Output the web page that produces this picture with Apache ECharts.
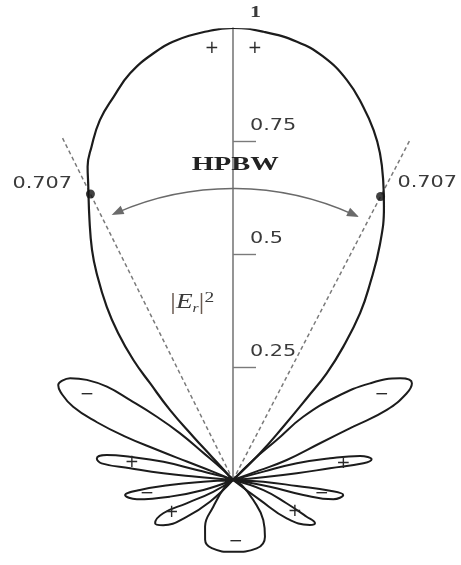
<!DOCTYPE html>
<html>
<head>
<meta charset="utf-8">
<script src="https://cdn.jsdelivr.net/npm/echarts@6/dist/echarts.min.js"></script>
<style>
  html, body { margin: 0; padding: 0; background: #fff; }
  #chart { width: 461px; height: 565px; }
</style>
</head>
<body>
<div id="chart"></div>
<script>
// Power pattern |E_r|^2 of the array, normalised to 1 on broadside.
// Every outline point is [relative power, angle in degrees]; angles run
// clockwise from the broadside direction, negative values are on the left.

const mainLobe = [
  [0, -42], [0.069, -42.4], [0.130, -42.5], [0.208, -42.0], [0.282, -40.6],
  [0.345, -39.7], [0.413, -38.0], [0.474, -36.1], [0.548, -33.4], [0.597, -31.5],
  [0.657, -28.9], [0.731, -26.0], [0.764, -24.9], [0.801, -23.0], [0.849, -20.3],
  [0.888, -17.3], [0.928, -14.2], [0.960, -10.6], [0.981, -7.3], [0.994, -3.4],
  [1.0, 0], [0.994, 3.9], [0.980, 8.3], [0.958, 12.0], [0.920, 15.9],
  [0.875, 19.2], [0.834, 21.9], [0.793, 24.2], [0.742, 26.6], [0.691, 28.9],
  [0.613, 32.0], [0.530, 34.9], [0.464, 37.3], [0.383, 39.6], [0.314, 41.3],
  [0.248, 42.0], [0.162, 43.3], [0.084, 45.3], [0, 45]
];

const firstSideLobeLeft = [
  [0, -46], [0.031, -44.5], [0.088, -47.5], [0.156, -48.6], [0.219, -50.3],
  [0.289, -52.2], [0.347, -53.5], [0.392, -55.6], [0.425, -58.0], [0.437, -59.8],
  [0.440, -61.5], [0.428, -63.0], [0.389, -65.4], [0.327, -67.0], [0.261, -68.0],
  [0.181, -68.3], [0.110, -68.2], [0.047, -67.5], [0, -66]
];
const firstSideLobeRight = [
  [0, 45], [0.063, 45.4], [0.131, 47.5], [0.209, 48.0], [0.294, 51.2],
  [0.371, 54.8], [0.433, 58.7], [0.450, 61.6], [0.429, 63.5], [0.374, 65.5],
  [0.291, 66.1], [0.209, 67.1], [0.127, 69.6], [0.062, 70], [0, 68]
];

const secondSideLobeLeft = [
  [0, -72], [0.023, -71.2], [0.083, -74.6], [0.159, -75.3], [0.234, -77.3],
  [0.285, -78.8], [0.305, -81.0], [0.293, -82.8], [0.229, -83.5], [0.155, -84.5],
  [0.081, -84.8], [0, -84]
];
const secondSideLobeRight = [
  [0, 74], [0.070, 74.7], [0.146, 75.3], [0.220, 77.4], [0.286, 79.3],
  [0.310, 81.5], [0.291, 82.7], [0.216, 83.1], [0.142, 84.0], [0.067, 84.9], [0, 85]
];

const thirdSideLobeLeft = [
  [0, -93], [0.066, -93.3], [0.140, -94.5], [0.207, -96.1], [0.241, -97.9],
  [0.217, -101.3], [0.144, -104.8], [0.069, -108.6], [0, -108]
];
const thirdSideLobeRight = [
  [0, 93], [0.067, 93.2], [0.142, 95.4], [0.216, 96.3], [0.246, 97.7],
  [0.226, 100.9], [0.159, 102.0], [0.083, 100.3], [0, 100]
];

const fourthSideLobeLeft = [
  [0, -120], [0.051, -120.7], [0.115, -116.7], [0.171, -115.5], [0.197, -119.0],
  [0.184, -122.9], [0.131, -128.4], [0.070, -133.3], [0, -133]
];
const fourthSideLobeRight = [
  [0, 108], [0.071, 108.3], [0.129, 113.5], [0.182, 116.5], [0.205, 117.8],
  [0.197, 120.3], [0.146, 125.5], [0.074, 126.5], [0, 127]
];

const backLobe = [
  [0, -128], [0.023, -129.9], [0.073, -143.6], [0.120, -149.0], [0.146, -155.0],
  [0.158, -162.7], [0.159, 180], [0.160, 160.9], [0.144, 150.6], [0.111, 142.9],
  [0.063, 134.6], [0.022, 120], [0, 120]
];

// Radius scale
const tickValues = [0.25, 0.5, 0.75];
const tickLabelValues = [0.25, 0.5, 0.75, 1];
const tickLabels = ['0.25', '0.5', '0.75', '1'];

// Half-power points and beamwidth
const halfPower = 0.707;
const halfPowerAngles = [-26.5, 27.5];
const halfPowerLabels = ['0.707', '0.707'];
const halfPowerLabelAt = [[0.779, -32.8], [0.785, 33.2]];
const hpbwGuideReach = 0.845;
const hpbwArc = [0.645, -24.6, 25.6];
const hpbwText = 'HPBW';
const hpbwTextAt = [0.697, 0.4];
const patternTitleAt = [0.402, -13.0];

// Field sign of each lobe
const lobeSigns = ['+', '+', '−', '−', '+', '+', '−', '−', '+', '+', '−'];
const lobeSignAt = [
  [0.956, -2.8], [0.956, 2.9], [0.374, -59.8], [0.379, 60.2], [0.227, -80.4],
  [0.247, 81.7], [0.193, -98.8], [0.198, 98.5], [0.154, -118.1], [0.154, 117.1],
  [0.137, 177.5]
];

// angle axis runs 0..360 clockwise from the top
const toAngle = (a) => (a < 0 ? a + 360 : a);
const toPoint = ([r, a]) => [r, toAngle(a)];

const lobes = [
  mainLobe, firstSideLobeLeft, firstSideLobeRight, secondSideLobeLeft,
  secondSideLobeRight, thirdSideLobeLeft, thirdSideLobeRight,
  fourthSideLobeLeft, fourthSideLobeRight, backLobe
];

const INK = '#1c1c1c';
const GREY = '#7a7a7a';
const LABEL = '#3a3a3a';

const lobeSeries = lobes.map((pts, i) => ({
  type: 'line',
  coordinateSystem: 'polar',
  data: pts.map(toPoint),
  smooth: 0.45,
  symbol: 'none',
  silent: true,
  z: 5,
  lineStyle: { color: INK, width: i === 0 ? 2.2 : 2 }
}));

const guideSeries = halfPowerAngles.map((a) => ({
  type: 'line',
  coordinateSystem: 'polar',
  data: [[0, toAngle(a)], [hpbwGuideReach, toAngle(a)]],
  symbol: 'none',
  silent: true,
  z: 3,
  lineStyle: { color: GREY, width: 1.5, type: [4, 3] }
}));

function textEl(p, text, style, scaleX) {
  return {
    type: 'text',
    x: p[0],
    y: p[1],
    scaleX: scaleX,
    style: Object.assign({ text: text, align: 'center', verticalAlign: 'middle', fill: LABEL }, style)
  };
}

const chart = echarts.init(document.getElementById('chart'), null, { renderer: 'canvas' });

chart.setOption({
  animation: false,
  backgroundColor: '#fff',
  polar: { center: [233, 480], radius: 452 },
  angleAxis: {
    type: 'value', min: 0, max: 360, startAngle: 90, clockwise: true, show: false
  },
  radiusAxis: {
    type: 'value', min: 0, max: 1, interval: 0.25,
    axisLine: { show: true, lineStyle: { color: GREY, width: 1.6 } },
    // negative length puts the ticks on the right-hand side of the upright axis
    axisTick: {
      show: true, customValues: tickValues, length: -23,
      lineStyle: { color: GREY, width: 1.4 }
    },
    axisLabel: { show: false },
    splitLine: { show: false },
    splitArea: { show: false }
  },
  series: [
    ...lobeSeries,
    ...guideSeries,
    {
      // half-power points
      type: 'scatter',
      coordinateSystem: 'polar',
      data: halfPowerAngles.map((a) => [halfPower, toAngle(a)]),
      symbol: 'circle',
      symbolSize: 9,
      itemStyle: { color: '#111' },
      silent: true,
      z: 8
    },
    {
      // beamwidth arrow between the half-power directions
      type: 'custom',
      coordinateSystem: 'polar',
      data: [[hpbwArc[0], 0]],
      silent: true,
      z: 4,
      renderItem: function (params, api) {
        const c = api.coord([0, 0]);
        const top = api.coord([hpbwArc[0], 0]);
        const R = Math.hypot(top[0] - c[0], top[1] - c[1]);
        const t1 = (hpbwArc[1] - 90) * Math.PI / 180;
        const t2 = (hpbwArc[2] - 90) * Math.PI / 180;
        const L = 12, W = 4.5;
        function head(t, sign) {
          const px = c[0] + R * Math.cos(t), py = c[1] + R * Math.sin(t);
          const dx = sign * -Math.sin(t), dy = sign * Math.cos(t);
          const bx = px - L * dx, by = py - L * dy;
          const nx = Math.cos(t), ny = Math.sin(t);
          return {
            type: 'polygon',
            shape: { points: [[px, py], [bx + W * nx, by + W * ny], [bx - W * nx, by - W * ny]] },
            style: { fill: '#6a6a6a' }
          };
        }
        return {
          type: 'group',
          children: [
            {
              type: 'arc',
              shape: { cx: c[0], cy: c[1], r: R, startAngle: t1 + 0.02, endAngle: t2 - 0.02, clockwise: true },
              style: { stroke: '#6a6a6a', lineWidth: 1.4, fill: null }
            },
            head(t1, -1),
            head(t2, 1)
          ]
        };
      }
    },
    {
      // radius tick labels, set above and to the right of each tick
      type: 'custom',
      coordinateSystem: 'polar',
      data: tickLabelValues.map((v) => [v, 0]),
      silent: true,
      z: 6,
      renderItem: function (params, api) {
        const i = params.dataIndex;
        const p = api.coord([tickLabelValues[i], 0]);
        const last = i === tickLabelValues.length - 1;
        return {
          type: 'text',
          x: p[0] + 17,
          y: p[1] - 15,
          scaleX: 1.3,
          style: {
            text: tickLabels[i], align: 'left', verticalAlign: 'middle', fill: LABEL,
            fontFamily: last ? 'Liberation Serif' : 'DejaVu Sans',
            fontSize: last ? 17 : 16, fontWeight: last ? 'bold' : 'normal'
          }
        };
      }
    },
    {
      // half-power values
      type: 'custom',
      coordinateSystem: 'polar',
      data: halfPowerLabelAt.map(toPoint),
      silent: true,
      z: 6,
      renderItem: function (params, api) {
        const p = api.coord([api.value(0), api.value(1)]);
        return textEl(p, halfPowerLabels[params.dataIndex], { fontFamily: 'DejaVu Sans', fontSize: 16 }, 1.3);
      }
    },
    {
      // HPBW caption and pattern name
      type: 'custom',
      coordinateSystem: 'polar',
      data: [toPoint(hpbwTextAt), toPoint(patternTitleAt)],
      silent: true,
      z: 6,
      renderItem: function (params, api) {
        const p = api.coord([api.value(0), api.value(1)]);
        if (params.dataIndex === 0) {
          return textEl(p, hpbwText, {
            fontFamily: 'Liberation Serif', fontWeight: 'bold', fontSize: 19, fill: '#222'
          }, 1.5);
        }
        return textEl(p, '{b||}{e|E}{s|r}{b||}{p|2}', {
          rich: {
            b: { fontFamily: 'Liberation Serif', fontSize: 23, fill: '#6a5a50' },
            e: { fontFamily: 'Liberation Serif', fontStyle: 'italic', fontSize: 21, fill: '#3a3a3a' },
            s: { fontFamily: 'Liberation Serif', fontStyle: 'italic', fontSize: 12, fill: '#3a3a3a', padding: [11, 0, 0, 0] },
            p: { fontFamily: 'Liberation Serif', fontSize: 15, fill: '#3a3a3a', padding: [0, 0, 10, 0] }
          }
        }, 1.3);
      }
    },
    {
      // signs of the lobes
      type: 'custom',
      coordinateSystem: 'polar',
      data: lobeSignAt.map(toPoint),
      silent: true,
      z: 6,
      renderItem: function (params, api) {
        const p = api.coord([api.value(0), api.value(1)]);
        return textEl(p, lobeSigns[params.dataIndex], { fontFamily: 'DejaVu Sans', fontSize: 17, fill: '#2a2a2a' }, 1);
      }
    }
  ]
});
</script>
</body>
</html>
